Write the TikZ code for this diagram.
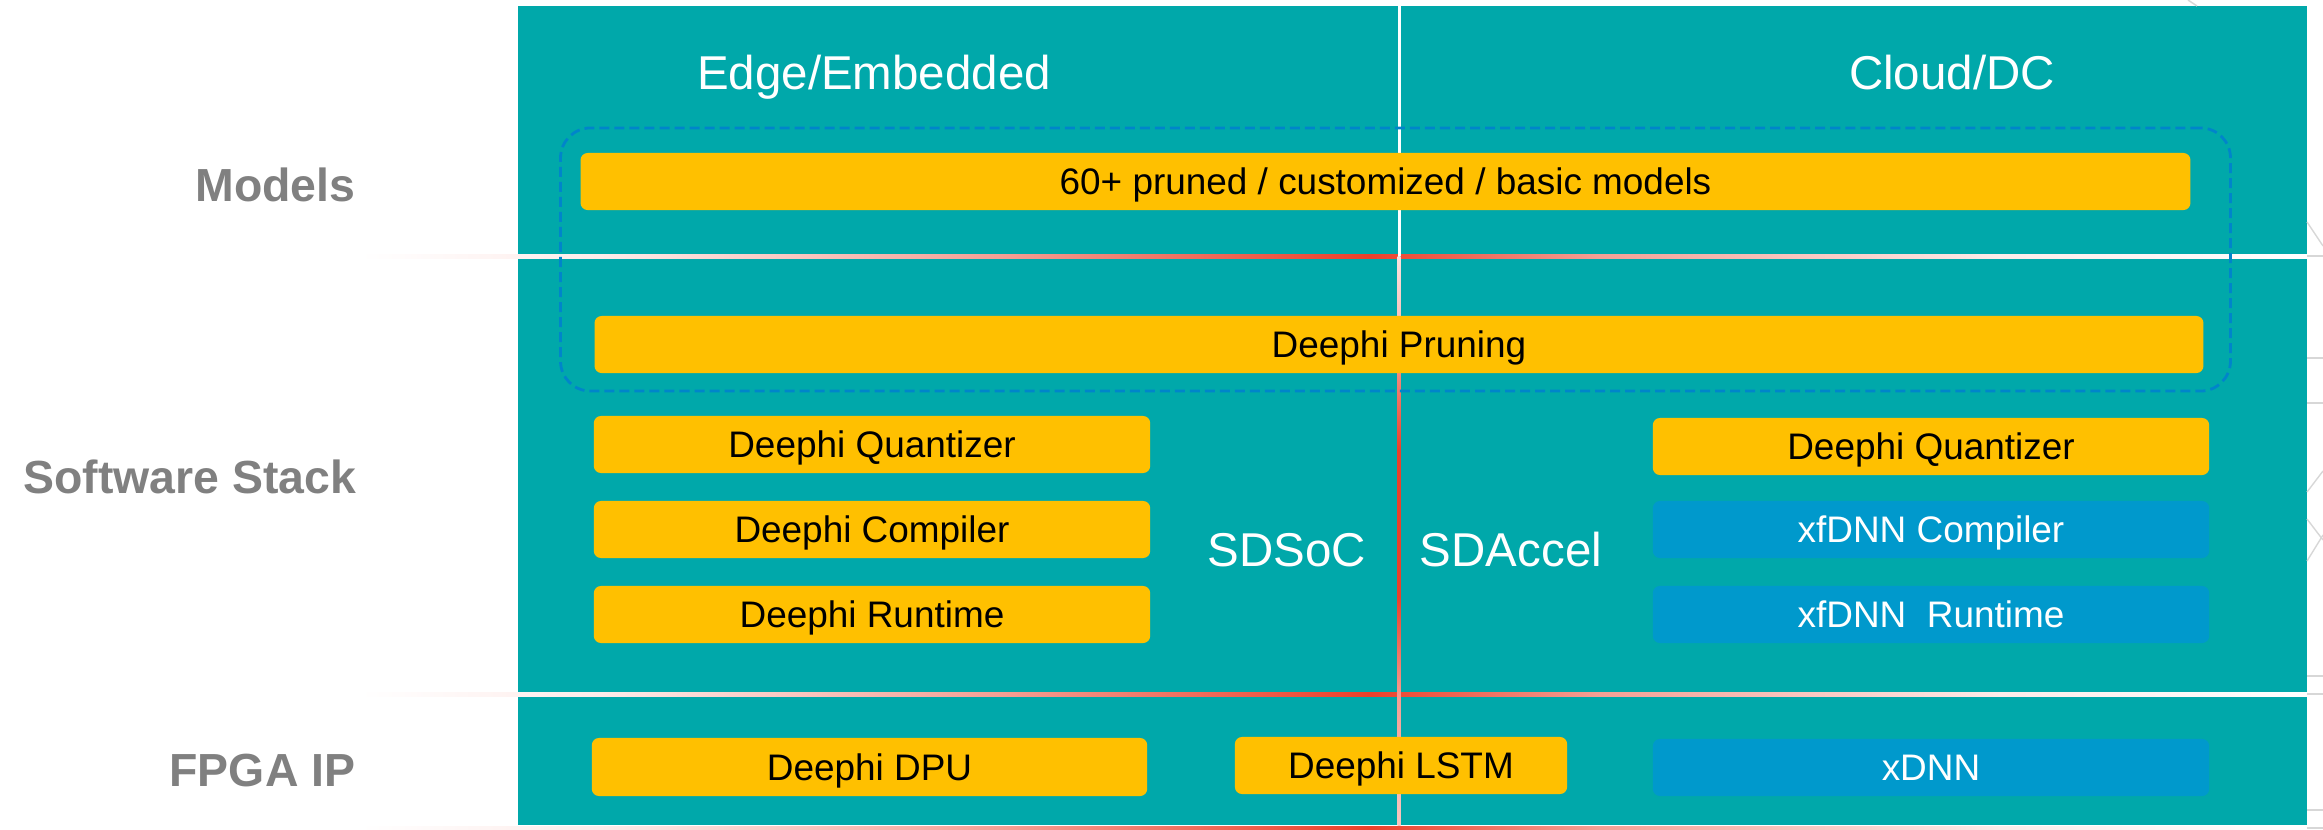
\documentclass[tikz,border=0pt]{standalone}
\usepackage{fontspec}
\setmainfont{Liberation Sans}
\definecolor{teal0}{RGB}{0,168,170}
\definecolor{boxyellow}{RGB}{255,192,0}
\definecolor{boxblue}{RGB}{0,153,204}
\definecolor{dashblue}{RGB}{0,133,202}
\definecolor{labgrey}{RGB}{128,128,128}
\definecolor{sepred}{RGB}{235,64,42}
\definecolor{decogrey}{RGB}{215,215,215}
\colorlet{sepA}{white!90!sepred}
\colorlet{sepB}{white!50!sepred}
\colorlet{sepC}{white!70!sepred}
\colorlet{sepD}{white!85!sepred}
\pgfdeclarehorizontalshading{sepshade}{100bp}{color(0bp)=(white); color(25bp)=(white); color(31.2bp)=(sepA); color(41.4bp)=(sepB); color(50.9bp)=(sepred); color(56.8bp)=(sepB); color(67.1bp)=(sepA); color(75bp)=(white); color(100bp)=(white)}
\pgfdeclareverticalshading{vshade}{100bp}{color(0bp)=(sepC); color(25bp)=(sepC); color(36bp)=(sepB); color(45bp)=(sepred); color(58bp)=(sepred); color(70bp)=(sepC); color(75bp)=(sepD); color(100bp)=(sepD)}
\begin{document}
\begin{tikzpicture}[x=0.01cm,y=-0.01cm,
  ybox/.style={fill=boxyellow, rounded corners=2pt, text=black,
    font=\fontsize{10.5}{12}\selectfont, text height=7.56pt, text depth=0pt, inner sep=0pt},
  bbox/.style={ybox, fill=boxblue, text=white},
  head/.style={text=white, font=\fontsize{13.5}{16}\selectfont, inner sep=0pt,
    text height=9.72pt, text depth=0pt},
  side/.style={text=labgrey, font=\bfseries\fontsize{13.2}{16}\selectfont, inner sep=0pt,
    anchor=east, text height=9.5pt, text depth=0pt},
  deco/.style={draw=decogrey, line width=0.4pt},
  grpbox/.style={draw=dashblue, line width=0.8pt, dash pattern=on 0.1cm off 0.05cm,
    rounded corners=0.3cm, inner sep=0pt}]
\useasboundingbox (0,0) rectangle (2323,830);
% panel
\fill[teal0] (518,6) rectangle (2307,825);
% separators
\shade[shading=sepshade] (360,254) rectangle (2307,258);
\shade[shading=sepshade] (360,692) rectangle (2307,696);
\shade[shading=sepshade] (360,826) rectangle (2307,830);
% vertical divider
\fill[white] (1397.5,6) rectangle (1400.5,256);
\shade[shading=vshade] (1397.5,256) rectangle (1400.5,825);
% right margin decoration
\draw[deco] (2307,256) -- (2323,256);
\draw[deco] (2307,694) -- (2323,694);
\draw[deco] (2307,828) -- (2323,828);
\draw[deco] (2307,222) -- (2323,246);
\draw[deco] (2307,358) -- (2323,358);
\draw[deco] (2307,403) -- (2323,403);
\draw[deco] (2307,492) -- (2323,471);
\draw[deco] (2307,519) -- (2323,540);
\draw[deco] (2307,561) -- (2323,535);
\draw[deco] (2307,676) -- (2323,676);
\draw[deco] (2307,810) -- (2323,810);
\draw[deco] (2188,0) -- (2197,6);
% dashed group
\node[grpbox, minimum width=16.69cm, minimum height=2.63cm] (grp) at (1395.5,259.5) {};
% headers
\node[head] (edge) at (874,72.5) {Edge/Embedded};
\node[head] (cloud) at (1952,72.5) {Cloud/DC};
% side labels
\node[side] (lmodels) at (356,185) {Models};
\node[side] (lsw) at (357,477) {Software Stack};
\node[side] (lfpga) at (356,770) {FPGA IP};
% models and pruning
\node[ybox, minimum width=16.09cm, minimum height=0.57cm] (models) at (1385.5,181.5) {60+ pruned / customized / basic models};
\node[ybox, minimum width=16.08cm, minimum height=0.57cm] (pruning) at (1399,344.5) {Deephi Pruning};
% left column
\node[ybox, minimum width=5.56cm, minimum height=0.57cm] (lq) at (872,444.5) {Deephi Quantizer};
\node[ybox, minimum width=5.56cm, minimum height=0.57cm] (lc) at (872,529.5) {Deephi Compiler};
\node[ybox, minimum width=5.56cm, minimum height=0.57cm] (lr) at (872,614.5) {Deephi Runtime};
% right column
\node[ybox, minimum width=5.56cm, minimum height=0.57cm] (rq) at (1931,446.5) {Deephi Quantizer};
\node[bbox, minimum width=5.56cm, minimum height=0.57cm] (rc) at (1931,529.5) {xfDNN Compiler};
\node[bbox, minimum width=5.56cm, minimum height=0.57cm] (rr) at (1931,614.5) {xfDNN\ \ Runtime};
% middle labels
\node[head] (sdsoc) at (1287,549) {SDSoC};
\node[head] (sdaccel) at (1511,549) {SDAccel};
% FPGA IP row
\node[ybox, minimum width=5.55cm, minimum height=0.58cm] (dpu) at (869.5,767) {Deephi DPU};
\node[ybox, minimum width=3.32cm, minimum height=0.57cm] (lstm) at (1401,765.5) {Deephi LSTM};
\node[bbox, minimum width=5.56cm, minimum height=0.57cm] (xdnn) at (1931,767.5) {xDNN};
\end{tikzpicture}
\end{document}
